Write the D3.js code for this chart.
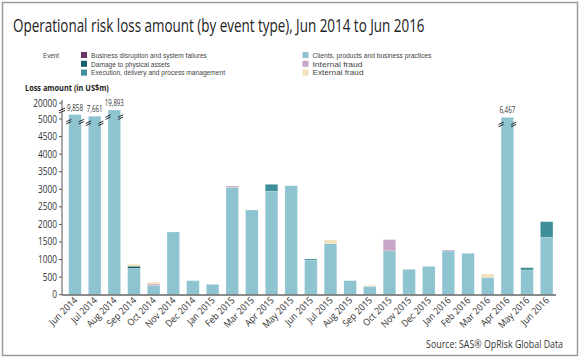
<!DOCTYPE html>
<html><head><meta charset="utf-8">
<script src="https://cdn.jsdelivr.net/npm/d3@7"></script>
<style>body{margin:0;background:#fff}svg{display:block;font-family:"Open Sans",sans-serif}</style>
</head><body><svg id="c" width="580" height="358"></svg>
<script>
const months = ["Jun 2014","Jul 2014","Aug 2014","Sep 2014","Oct 2014","Nov 2014","Dec 2014","Jan 2015","Feb 2015","Mar 2015","Apr 2015","May 2015","Jun 2015","Jul 2015","Aug 2015","Sep 2015","Oct 2015","Nov 2015","Dec 2015","Jan 2016","Feb 2016","Mar 2016","Apr 2016","May 2016","Jun 2016"];
const seriesNames = ["Business disruption and system failures","Damage to physical assets","Execution, delivery and process management","Clients, products and business practices","Internal fraud","External fraud"];
const seriesColors = ["#6e3369","#135f68","#3f8f9b","#8ec3d0","#c8a6c8","#f2e1b9"];
const clients   = [9858,7661,19893,751,256,1784,400,296,3056,2410,2942,3102,979,1451,399,239,1248,723,808,1244,1178,495,6467,703,1633];
const damage    = [0,0,0,60,0,0,0,0,0,0,0,0,0,0,0,0,0,0,0,0,0,0,0,0,0];
const execution = [0,0,0,0,0,0,0,0,0,0,200,0,37,0,0,0,0,0,0,0,0,0,0,65,444];
const business  = [0,0,0,0,0,0,0,0,0,0,0,0,0,0,0,0,0,0,0,0,0,0,0,0,0];
const internal  = [0,0,0,0,50,0,0,0,37,0,0,0,0,0,0,0,320,0,0,28,0,0,0,0,0];
const external  = [0,0,0,57,50,0,0,0,0,0,0,0,0,106,0,28,0,0,0,0,0,94,0,0,0];
const yTicks = [0,500,1000,1500,2000,2500,3000,3500,4000,4500,5000];
const breakTick = 20000;
const breakLimit = 5000;

const svg = d3.select("#c");
svg.append("rect").attr("x",2.5).attr("y",2.5).attr("width",575).attr("height",353)
  .attr("fill","none").attr("stroke","#9a9a9a").attr("stroke-width",1.5);

// text fitted horizontally to a target width by scaling
function fitText(x0, y0, str, size, width, opts={}){
  const t = svg.append("text").attr("font-size",size).attr("fill",opts.fill||"#333")
    .attr("font-weight",opts.weight||"normal").attr("text-anchor",opts.anchor||"start").text(str);
  if(opts.family) t.attr("font-family",opts.family);
  const len = t.node().getComputedTextLength();
  const sx = width/len;
  t.attr("transform",`translate(${x0},${y0}) scale(${sx},1)`);
  return t;
}

fitText(13, 32, "Operational risk loss amount (by event type), Jun 2014 to Jun 2016", 19, 412, {fill:"#222"});

// legend
const lf = "Liberation Sans, Arial, sans-serif";
fitText(43, 58, "Event", 7.6, 16, {fill:"#444", family:lf});
const legLens = [116,79,134,119,50,51];
seriesNames.forEach((name,k)=>{
  const col = k<3?0:1, row=k%3;
  const x = col===0?81:302.5, y = 55+row*8.8;
  svg.append("rect").attr("x",x).attr("y",y-3).attr("width",6).attr("height",6).attr("fill",seriesColors[k]);
  fitText(x+10, y+2.8, name, 7.6, legLens[k], {fill:"#444", family:lf});
});

fitText(25, 91, "Loss amount (in US$m)", 8.5, 84, {fill:"#222", weight:"bold"});

const x = d3.scaleBand().domain(months).range([65.2,556.5]).paddingInner(0.36).paddingOuter(0.18);
const y = d3.scaleLinear().domain([0,breakLimit]).range([294.7,119]);
const yOver = d3.scaleLog().domain([breakLimit,breakTick]).range([0,9]);
const yTickPos = v => v===breakTick ? 103 : y(v);

const rows = months.map((m,i)=>({month:m, s0:business[i], s1:damage[i], s2:execution[i], s3:clients[i], s4:internal[i], s5:external[i]}));
const stackKeys = ["s3","s1","s2","s0","s4","s5"];
const stacked = d3.stack().keys(stackKeys)(rows);
const keyIndex = {s0:0,s1:1,s2:2,s3:3,s4:4,s5:5};

const totals = rows.map(r=>stackKeys.reduce((a,k)=>a+r[k],0));
function yv(v){ return v>breakLimit ? y(breakLimit)-yOver(Math.min(v,breakTick)) : y(v); }

stacked.forEach(layer=>{
  svg.append("g").selectAll("rect").data(layer).join("rect")
    .attr("x",d=>x(d.data.month)).attr("width",x.bandwidth())
    .attr("y",d=>yv(d[1])).attr("height",d=>Math.max(0,yv(d[0])-yv(d[1])))
    .attr("fill",seriesColors[keyIndex[layer.key]])
    .attr("stroke","#fff").attr("stroke-opacity",0.35).attr("stroke-width",0.6);
});

// break marks and labels for broken bars
const fmt = d3.format(",");
rows.forEach((r,i)=>{
  const t = totals[i];
  if(t>breakLimit){
    const top = yv(t);
    const by = top+6;
    [x(r.month), x(r.month)+x.bandwidth()].forEach(ex=>{
      [0,2.2].forEach(off=>{
        svg.append("line").attr("x1",ex-2.5).attr("y1",by+off+1.2).attr("x2",ex+2.5).attr("y2",by+off-1.2)
          .attr("stroke","#111").attr("stroke-width",0.9);
      });
    });
    const lbl = fmt(t);
    const w = lbl.length>5 ? 19 : 16;
    fitText(x(r.month)+x.bandwidth()/2, top-4, lbl, 8.5, w, {anchor:"middle"});
  }
});

// y axis
const ax = 62;
svg.append("line").attr("x1",ax).attr("x2",ax).attr("y1",100).attr("y2",295).attr("stroke","#555").attr("stroke-width",1);
svg.append("rect").attr("x",ax-1.2).attr("y",110.3).attr("width",2.4).attr("height",2).attr("fill","#fff");
[0,2.2].forEach(off=>{
  svg.append("line").attr("x1",ax-3).attr("y1",109.5+off+1.3).attr("x2",ax+3).attr("y2",109.5+off-1.3)
    .attr("stroke","#111").attr("stroke-width",0.9);
});
const allTicks = yTicks.concat([breakTick]);
allTicks.forEach(v=>{
  const py = yTickPos(v);
  svg.append("line").attr("x1",ax-3).attr("x2",ax).attr("y1",py).attr("y2",py).attr("stroke","#555");
  const s = String(v);
  fitText(57, py+3.5, s, 10, s.length*4.75, {anchor:"end"});
});

// baseline
svg.append("line").attr("x1",ax).attr("x2",556).attr("y1",295).attr("y2",295).attr("stroke","#666").attr("stroke-width",1.5);

// x labels
months.forEach(m=>{
  const cx = x(m)+x.bandwidth()/2+3;
  svg.append("text").attr("transform",`translate(${cx},301) rotate(-45) scale(0.92,1)`)
    .attr("text-anchor","end").attr("font-size",9.5).attr("fill","#333").text(m);
});

fitText(563, 348, "Source: SAS® OpRisk Global Data", 10.5, 137, {anchor:"end"});
</script></body></html>
